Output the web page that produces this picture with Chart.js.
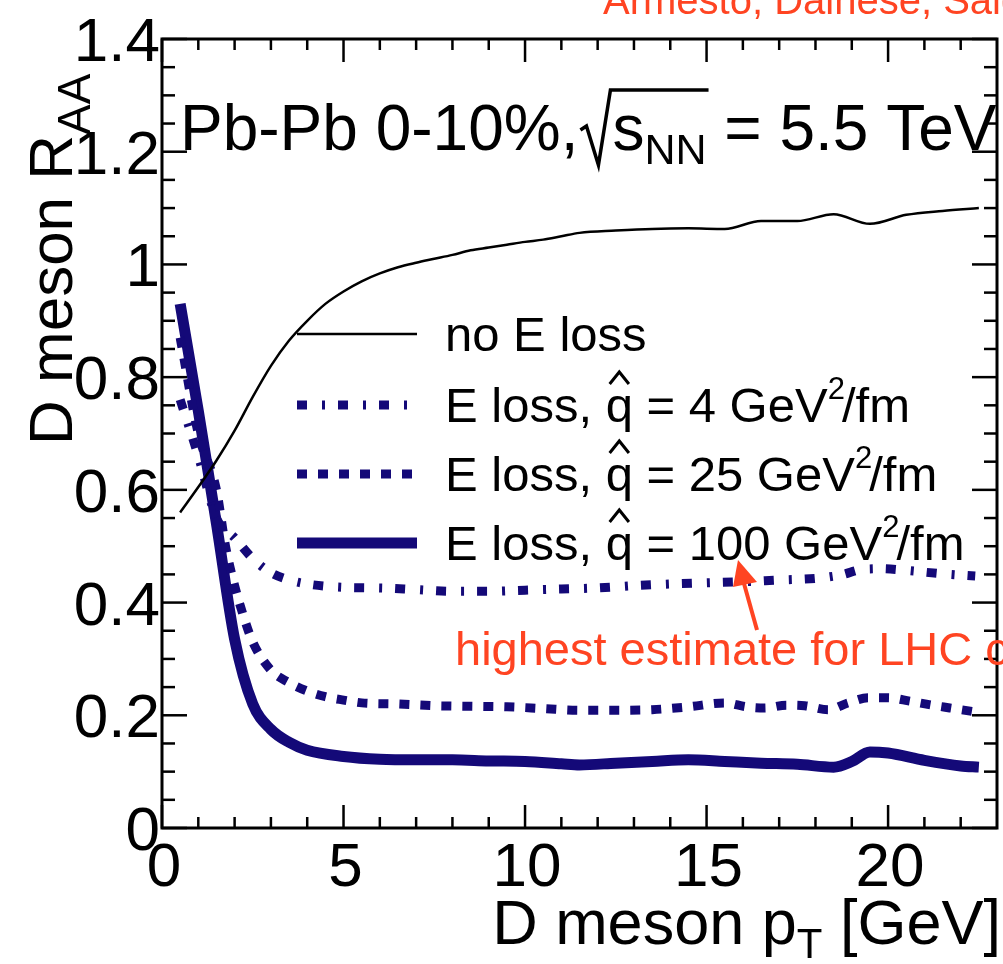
<!DOCTYPE html>
<html>
<head>
<meta charset="utf-8">
<script src="https://cdn.jsdelivr.net/npm/chart.js@4.4.0/dist/chart.umd.min.js"></script>
<style>
  html, body { margin: 0; padding: 0; background: #fff; }
</style>
</head>
<body>
<canvas id="myChart" width="1003" height="964"></canvas>
<script>
'use strict';

// values
let noLossX = [0.5, 1, 1.5, 2, 2.5, 3, 3.5, 4, 4.5, 5, 5.5, 6, 6.5, 7, 7.5, 8, 8.5, 9, 9.5, 10, 10.5, 11, 11.5, 12.5, 13.5, 14.5, 15.5, 16.5, 17.5, 18.5, 19.5, 20.5, 21.5, 22.5];
let noLossY = [0.56, 0.605, 0.652, 0.705, 0.765, 0.82, 0.865, 0.90, 0.93, 0.952, 0.97, 0.984, 0.995, 1.003, 1.01, 1.017, 1.025, 1.03, 1.035, 1.04, 1.044, 1.05, 1.056, 1.06, 1.063, 1.064, 1.063, 1.077, 1.077, 1.089, 1.072, 1.088, 1.095, 1.1];

let q4X = [0.5, 1, 1.5, 2, 2.5, 3, 3.5, 4, 5, 6, 7, 8, 9, 10, 11, 12, 13, 14, 15, 16, 17, 18, 18.7, 19.3, 19.8, 20.5, 21.5, 22.4];
let q4Y = [0.76, 0.66, 0.55, 0.515, 0.478, 0.453, 0.44, 0.433, 0.427, 0.426, 0.423, 0.42, 0.42, 0.422, 0.424, 0.426, 0.43, 0.433, 0.435, 0.437, 0.44, 0.443, 0.449, 0.459, 0.46, 0.457, 0.451, 0.447];

let q25X = [0.5, 1, 1.5, 1.75, 2, 2.25, 2.5, 3, 3.5, 4, 4.5, 5, 5.5, 6.5, 7.5, 8.5, 9.5, 10.5, 11.5, 12.5, 13.5, 14.5, 15.5, 16.1, 16.6, 17.2, 17.7, 18.35, 18.9, 19.45, 20, 20.6, 21.2, 21.7, 22.4];
let q25Y = [0.87, 0.70, 0.60, 0.50, 0.43, 0.375, 0.33, 0.28, 0.258, 0.243, 0.233, 0.227, 0.222, 0.22, 0.217, 0.216, 0.215, 0.212, 0.209, 0.209, 0.21, 0.215, 0.222, 0.215, 0.213, 0.218, 0.217, 0.21, 0.222, 0.231, 0.231, 0.225, 0.218, 0.213, 0.206];

let q100X = [0.5, 1, 1.5, 2, 2.5, 3, 3.5, 4, 5, 6, 7, 8, 9, 10, 11, 11.5, 12.5, 13.5, 14.5, 15.5, 16.5, 17.5, 18.5, 19, 19.5, 20, 21, 22, 22.5];
let q100Y = [0.93, 0.74, 0.54, 0.335, 0.22, 0.175, 0.152, 0.138, 0.127, 0.122, 0.121, 0.121, 0.119, 0.118, 0.114, 0.112, 0.115, 0.118, 0.121, 0.118, 0.115, 0.113, 0.108, 0.118, 0.135, 0.133, 0.12, 0.11, 0.108];

let xTicks = [0, 5, 10, 15, 20];
let xTickLabels = ['0', '5', '10', '15', '20'];
let yTicks = [0, 0.2, 0.4, 0.6, 0.8, 1, 1.2, 1.4];
let yTickLabels = ['0', '0.2', '0.4', '0.6', '0.8', '1', '1.2', '1.4'];
let qhatValues = ['4', '25', '100'];

const FONT = '"Liberation Sans", Arial, Helvetica, sans-serif';
const navy = '#140978';
const red = '#ff4422';
const dashDot = [10, 15, 3, 13];
const dotted = [10, 11];

function pts(xs, ys) {
    return xs.map((x, i) => ({ x: x, y: ys[i] }));
}

// draw a row of text pieces (size, baseline shift) and return the end x
function runs(ctx, x, y, parts, measureOnly) {
    for (let p of parts) {
        ctx.font = p.size + 'px ' + FONT;
        if (!measureOnly) ctx.fillText(p.t, x, y + (p.dy || 0));
        x += ctx.measureText(p.t).width + (p.adv || 0);
    }
    return x;
}

function seg(ctx, x1, y1, x2, y2) {
    ctx.beginPath();
    ctx.moveTo(x1, y1);
    ctx.lineTo(x2, y2);
    ctx.stroke();
}

let decor = {
    id: 'decor',
    afterDraw(chart) {
        let ctx = chart.ctx;
        let a = chart.chartArea;
        let xs = chart.scales.x;
        let ys = chart.scales.y;
        ctx.save();
        ctx.fillStyle = '#000';
        ctx.strokeStyle = '#000';
        ctx.textAlign = 'left';
        ctx.textBaseline = 'alphabetic';

        // frame
        ctx.lineWidth = 3;
        ctx.strokeRect(a.left, a.top, a.right - a.left, a.bottom - a.top);

        // ticks, inside on all four sides
        ctx.lineWidth = 2.5;
        for (let i = 0; i <= 22; i++) {
            let px = xs.getPixelForValue(i);
            let len = xTicks.includes(i) ? 23 : 11;
            seg(ctx, px, a.bottom, px, a.bottom - len);
            seg(ctx, px, a.top, px, a.top + len);
        }
        for (let i = 0; i <= 28; i++) {
            let py = ys.getPixelForValue(i * 0.05);
            let len = i % 4 === 0 ? 25 : 13;
            seg(ctx, a.left, py, a.left + len, py);
            seg(ctx, a.right, py, a.right - len, py);
        }

        // tick labels
        ctx.font = '62px ' + FONT;
        ctx.textAlign = 'right';
        for (let i = 0; i < yTicks.length; i++) {
            ctx.fillText(yTickLabels[i], a.left - 2, ys.getPixelForValue(yTicks[i]) + 22);
        }
        ctx.textAlign = 'center';
        for (let i = 0; i < xTicks.length; i++) {
            ctx.fillText(xTickLabels[i], xs.getPixelForValue(xTicks[i]) + 2, a.bottom + 58);
        }
        ctx.textAlign = 'left';

        // x title, right aligned
        let xt = [{ t: 'D meson p', size: 63 }, { t: 'T', size: 42, dy: 14 }, { t: ' [GeV]', size: 63 }];
        let w = runs(ctx, 0, 0, xt, true);
        runs(ctx, 1001 - w, 944, xt);

        // y title, rotated
        ctx.save();
        ctx.translate(72, 445);
        ctx.rotate(-Math.PI / 2);
        runs(ctx, 0, 0, [{ t: 'D meson R', size: 62 }, { t: 'AA', size: 46, dy: 18 }]);
        ctx.restore();

        // system label with radical
        let x0 = runs(ctx, 180, 150, [{ t: 'Pb-Pb 0-10%,', size: 64 }]);
        let x1 = runs(ctx, x0 + 34, 150, [{ t: 's', size: 64 }, { t: 'NN', size: 43, dy: 14 }]);
        ctx.lineWidth = 3.5;
        ctx.beginPath();
        ctx.moveTo(x0 + 2, 130);
        ctx.lineTo(x0 + 8, 126);
        ctx.lineTo(x0 + 20, 165);
        ctx.lineTo(x0 + 32, 90);
        ctx.lineTo(x1 + 2, 90);
        ctx.stroke();
        runs(ctx, x1, 150, [{ t: ' = 5.5 TeV', size: 64 }]);

        // legend
        let rows = [334, 405, 474, 543];
        let styles = [
            { c: '#000', w: 2.5, d: [] },
            { c: navy, w: 9, d: dashDot },
            { c: navy, w: 9, d: dotted },
            { c: navy, w: 11, d: [] }
        ];
        for (let i = 0; i < rows.length; i++) {
            ctx.strokeStyle = styles[i].c;
            ctx.lineWidth = styles[i].w;
            ctx.setLineDash(styles[i].d);
            seg(ctx, 297, rows[i], 417, rows[i]);
        }
        ctx.setLineDash([]);
        ctx.strokeStyle = '#000';
        runs(ctx, 445, rows[0] + 17, [{ t: 'no E loss', size: 49 }]);
        for (let i = 0; i < qhatValues.length; i++) {
            let y = rows[i + 1] + 17;
            let qx = runs(ctx, 445, y, [{ t: 'E loss, ', size: 49 }]);
            let qe = runs(ctx, qx, y, [{ t: 'q', size: 49 }]);
            ctx.lineWidth = 3;
            ctx.beginPath();
            ctx.moveTo(qx + 4, y - 38);
            ctx.lineTo((qx + qe) / 2, y - 50);
            ctx.lineTo(qe - 4, y - 38);
            ctx.stroke();
            let gx = runs(ctx, qe, y, [{ t: ' = ' + qhatValues[i] + ' GeV', size: 49 }]);
            runs(ctx, gx, y, [{ t: '2', size: 31, dy: -23, adv: -3 }, { t: '/fm', size: 49 }]);
        }

        // red notes
        ctx.fillStyle = red;
        ctx.strokeStyle = red;
        runs(ctx, 455, 665, [{ t: 'highest estimate for LHC conditions', size: 47 }]);
        runs(ctx, 603, 14, [{ t: 'Armesto, Dainese, Salgado, Wiedemann', size: 40 }]);
        ctx.lineWidth = 4;
        seg(ctx, 757, 630, 743, 580);
        ctx.beginPath();
        ctx.moveTo(738, 560);
        ctx.lineTo(757, 582);
        ctx.lineTo(733, 587);
        ctx.closePath();
        ctx.fill();

        ctx.restore();
    }
};

let common = { showLine: true, pointRadius: 0, fill: false, cubicInterpolationMode: 'monotone' };

let chardata = {
    type: 'scatter',
    data: {
        datasets: [
            Object.assign({ label: 'no E loss', data: pts(noLossX, noLossY), borderColor: '#000', borderWidth: 2.5 }, common),
            Object.assign({ label: 'q4', data: pts(q4X, q4Y), borderColor: navy, borderWidth: 9, borderDash: dashDot }, common),
            Object.assign({ label: 'q25', data: pts(q25X, q25Y), borderColor: navy, borderWidth: 9, borderDash: dotted }, common),
            Object.assign({ label: 'q100', data: pts(q100X, q100Y), borderColor: navy, borderWidth: 11 }, common)
        ]
    },
    options: {
        responsive: false,
        animation: false,
        events: [],
        layout: { padding: { left: 162, right: 6, top: 39, bottom: 136 } },
        plugins: { legend: { display: false }, tooltip: { enabled: false } },
        scales: {
            x: { type: 'linear', min: 0, max: 23, display: false },
            y: { type: 'linear', min: 0, max: 1.4, display: false }
        }
    },
    plugins: [decor]
};

let ctx = document.getElementById('myChart').getContext('2d');
let myChart = new Chart(ctx, chardata);
</script>
</body>
</html>
